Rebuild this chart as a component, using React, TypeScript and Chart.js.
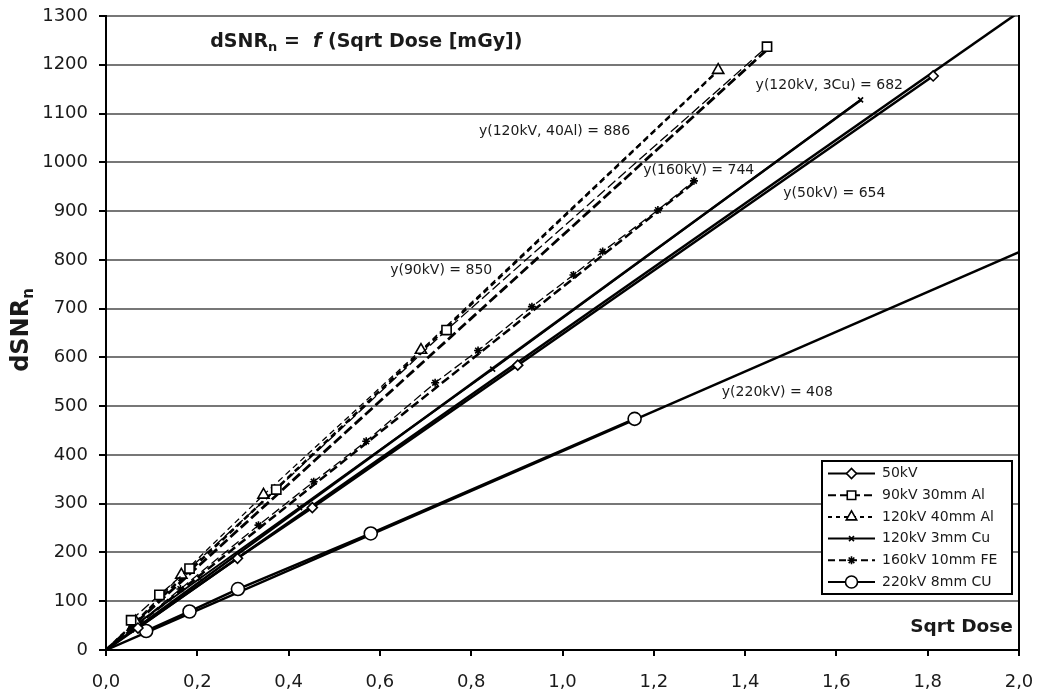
import React, { useEffect, useRef } from 'react';
import { Chart, registerables } from 'chart.js';
import { drawPoint } from 'chart.js/helpers';

Chart.register(...registerables);

// ---- Data ----
const seriesLabels = ['50kV', '90kV 30mm Al', '120kV 40mm Al', '120kV 3mm Cu', '160kV 10mm FE', '220kV 8mm CU'];

const x50kV = [0.07, 0.288, 0.452, 0.902, 1.812];
const y50kV = [45, 188, 292, 584, 1177];

const x90kV = [0.055, 0.117, 0.183, 0.373, 0.746, 1.448];
const y90kV = [61, 113, 167, 329, 656, 1237];

const x120Al = [0.065, 0.165, 0.345, 0.69, 1.341];
const y120Al = [58, 154, 318, 615, 1189];

const x120Cu = [0.055, 0.206, 0.424, 0.847, 1.653];
const y120Cu = [45, 147, 292, 576, 1128];

const x160kV = [0.055, 0.163, 0.334, 0.455, 0.57, 0.721, 0.815, 0.933, 1.024, 1.088, 1.209, 1.288];
const y160kV = [42, 125, 256, 345, 428, 548, 614, 704, 769, 817, 902, 962];

const x220kV = [0.088, 0.183, 0.289, 0.58, 1.158];
const y220kV = [39, 79, 125, 239, 474];

// Trend lines y = slope * x (slopes shown in the chart), from 0 to their end
const fitSlopes = [654, 850, 886, 682, 744, 408];
const fitEndX = [2.0, 1.448, 1.341, 1.653, 1.288, 2.0];
const fitLabels = ['y(50kV) = 654', 'y(90kV) = 850', 'y(120kV, 40Al) = 886', 'y(120kV, 3Cu) = 682', 'y(160kV) = 744', 'y(220kV) = 408'];

const xMin = 0, xMax = 2.0, xStep = 0.2;
const yMin = 0, yMax = 1300, yStep = 100;

// ---- Styles / positions ----
const fitLabelPos: [number, number][] = [
  [1.4837, 937], [0.6225, 779], [0.817, 1063], [1.423, 1158], [1.177, 984], [1.349, 528],
];
const titlePos: [number, number] = [0.2284, 1247];
const xTitlePos: [number, number] = [1.9866, 47];

const pointStyles = ['rectRot', 'rect', 'triangle', 'crossRot', 'star', 'circle'];
const pointRadii = [5, 6.5, 6.5, 3.5, 4, 6.5];
const seriesDash: number[][] = [[], [10, 4], [6, 4], [], [9, 4], []];
const seriesWidth = [2.5, 1.3, 1.3, 2, 1.3, 2.5];
const fitWidth = [2.5, 2.8, 2.5, 2.5, 2.5, 2.5];

const FONT = '"DejaVu Sans", Verdana, sans-serif';
const INK = '#1a1a1a';

const xs = [x50kV, x90kV, x120Al, x120Cu, x160kV, x220kV];
const ys = [y50kV, y90kV, y120Al, y120Cu, y160kV, y220kV];

const overlayPlugin = {
  id: 'overlay',
  afterDraw(chart: any) {
    const { ctx, chartArea } = chart;
    const sx = chart.scales.x;
    const sy = chart.scales.y;
    ctx.save();
    // right frame edge
    ctx.strokeStyle = '#000';
    ctx.lineWidth = 2;
    ctx.setLineDash([]);
    ctx.beginPath();
    ctx.moveTo(chartArea.right, chartArea.top - 1);
    ctx.lineTo(chartArea.right, chartArea.bottom);
    ctx.stroke();

    // fit labels
    ctx.fillStyle = INK;
    ctx.textBaseline = 'middle';
    ctx.textAlign = 'left';
    ctx.font = `14px ${FONT}`;
    fitLabels.forEach((t, i) => {
      ctx.fillText(t, sx.getPixelForValue(fitLabelPos[i][0]), sy.getPixelForValue(fitLabelPos[i][1]));
    });

    // chart title with subscript
    let tx = sx.getPixelForValue(titlePos[0]);
    const ty = sy.getPixelForValue(titlePos[1]);
    const big = `bold 19px ${FONT}`;
    const small = `bold 13px ${FONT}`;
    ctx.font = big;
    ctx.fillText('dSNR', tx, ty);
    tx += ctx.measureText('dSNR').width;
    ctx.font = small;
    ctx.fillText('n', tx, ty + 6);
    tx += ctx.measureText('n').width;
    ctx.font = big;
    ctx.fillText(' =  ', tx, ty);
    tx += ctx.measureText(' =  ').width;
    ctx.font = `italic bold 19px ${FONT}`;
    ctx.fillText('f', tx, ty);
    tx += ctx.measureText('f').width;
    ctx.font = big;
    ctx.fillText(' (Sqrt Dose [mGy])', tx, ty);

    // x axis title inside plot
    ctx.font = `bold 18.5px ${FONT}`;
    ctx.textAlign = 'right';
    ctx.fillText('Sqrt Dose', sx.getPixelForValue(xTitlePos[0]), sy.getPixelForValue(xTitlePos[1]));

    // y axis title, rotated with subscript
    ctx.save();
    ctx.translate(22, 330);
    ctx.rotate(-Math.PI / 2);
    ctx.textAlign = 'left';
    const yb = `bold 24px ${FONT}`;
    const ysm = `bold 15px ${FONT}`;
    ctx.font = yb;
    const w1 = ctx.measureText('dSNR').width;
    ctx.font = ysm;
    const w2 = ctx.measureText('n').width;
    const start = -(w1 + w2) / 2;
    ctx.font = yb;
    ctx.fillText('dSNR', start, 0);
    ctx.font = ysm;
    ctx.fillText('n', start + w1, 7);
    ctx.restore();

    // legend box
    const lx = 822, ly = 461, lw = 190, lh = 133;
    ctx.fillStyle = '#fff';
    ctx.fillRect(lx, ly, lw, lh);
    ctx.strokeStyle = '#000';
    ctx.lineWidth = 2;
    ctx.strokeRect(lx, ly, lw, lh);
    seriesLabels.forEach((lab, i) => {
      const ry = 473.5 + i * 21.7;
      ctx.strokeStyle = '#000';
      ctx.lineWidth = 2;
      ctx.setLineDash(seriesDash[i].length ? [Math.max(4, seriesDash[i][0] - 2), 4] : []);
      ctx.beginPath();
      ctx.moveTo(828, ry);
      ctx.lineTo(875, ry);
      ctx.stroke();
      ctx.setLineDash([]);
      ctx.fillStyle = '#fff';
      ctx.strokeStyle = '#000';
      ctx.lineWidth = 1.6;
      drawPoint(ctx, { pointStyle: pointStyles[i], radius: Math.min(pointRadii[i], 6), rotation: 0, borderWidth: 1.6 }, 851.5, ry);
      ctx.fillStyle = INK;
      ctx.font = `14px ${FONT}`;
      ctx.textAlign = 'left';
      ctx.fillText(lab, 882, ry);
    });
    ctx.restore();
  },
};

export default function App() {
  const ref = useRef<HTMLCanvasElement | null>(null);
  useEffect(() => {
    if (!ref.current) return;
    const seriesSets = seriesLabels.map((lab, i) => ({
      label: lab,
      data: xs[i].map((v, k) => ({ x: v, y: ys[i][k] })),
      showLine: true,
      borderColor: '#000',
      backgroundColor: '#fff',
      borderWidth: seriesWidth[i],
      borderDash: seriesDash[i],
      pointStyle: pointStyles[i],
      pointRadius: pointRadii[i],
      pointBorderWidth: 1.6,
      pointBorderColor: '#000',
      pointBackgroundColor: '#fff',
    }));
    const fitSets = fitSlopes.map((m, i) => ({
      label: 'fit ' + seriesLabels[i],
      data: [
        { x: 0, y: 0 },
        { x: fitEndX[i], y: m * fitEndX[i] },
      ],
      showLine: true,
      borderColor: '#000',
      borderWidth: fitWidth[i],
      borderDash: seriesDash[i],
      pointRadius: 0,
    }));
    const chart = new Chart(ref.current, {
      type: 'scatter',
      data: { datasets: [...seriesSets, ...fitSets] as any },
      options: {
        animation: false,
        responsive: false,
        devicePixelRatio: 1,
        layout: { padding: { top: 16, right: 19, left: 0, bottom: 0 } },
        plugins: { legend: { display: false }, tooltip: { enabled: false }, title: { display: false } },
        scales: {
          x: {
            type: 'linear',
            min: xMin,
            max: xMax,
            ticks: {
              stepSize: xStep,
              color: INK,
              font: { family: FONT, size: 18 },
              padding: 16,
              maxRotation: 0,
              callback: (v: any) => Number(v).toFixed(1).replace('.', ','),
            },
            grid: { drawOnChartArea: false, drawTicks: true, tickLength: 6, color: '#000', lineWidth: 2 },
            border: { display: true, color: '#000', width: 2 },
            afterFit: (s: any) => {
              s.height = 45;
              s.paddingLeft = 0;
              s.paddingRight = 0;
            },
          },
          y: {
            type: 'linear',
            min: yMin,
            max: yMax,
            ticks: {
              stepSize: yStep,
              color: INK,
              font: { family: FONT, size: 18 },
              padding: 11,
              callback: (v: any) => String(Math.round(Number(v))),
            },
            grid: { color: '#777', lineWidth: 2, tickLength: 7, tickColor: '#000', tickWidth: 2 },
            border: { display: true, color: '#000', width: 2 },
            afterFit: (s: any) => {
              s.width = 106;
              s.paddingTop = 0;
              s.paddingBottom = 0;
            },
          },
        },
      },
      plugins: [overlayPlugin],
    });
    return () => chart.destroy();
  }, []);
  return (
    <div style={{ position: 'fixed', left: 0, top: 0, width: 1038, height: 695, background: '#fff' }}>
      <canvas ref={ref} width={1038} height={695} style={{ display: 'block' }} />
    </div>
  );
}
